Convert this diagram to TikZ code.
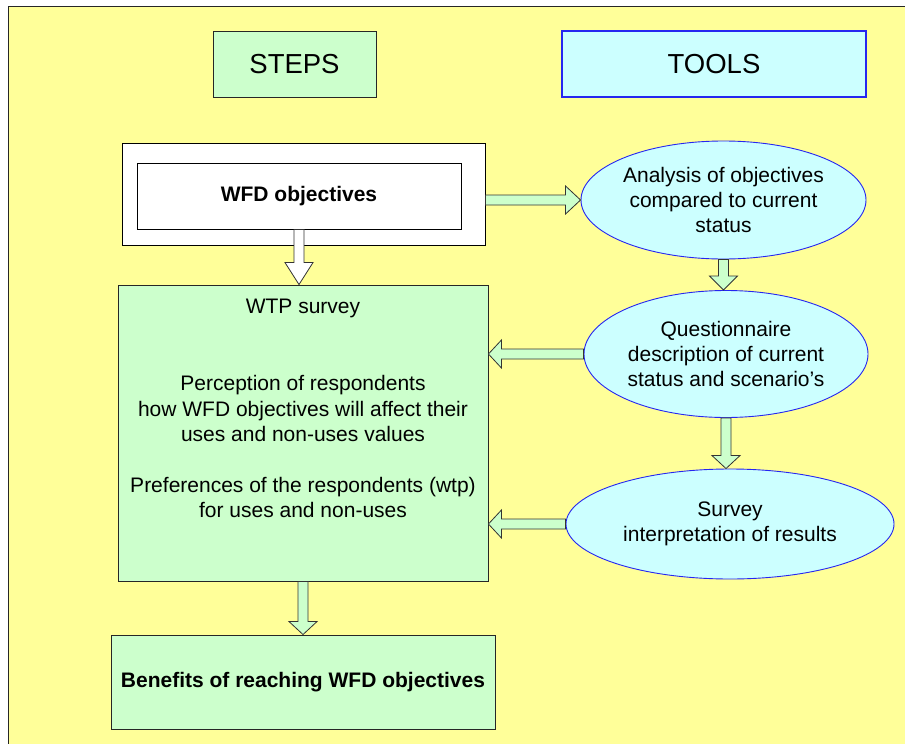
\documentclass[tikz,border=0pt]{standalone}
\usepackage{fontspec}
\setmainfont{Liberation Sans}
\usetikzlibrary{shapes.geometric,calc}

\definecolor{pageyellow}{HTML}{FFFF99}
\definecolor{stepgreen}{HTML}{CCFFCC}
\definecolor{toolcyan}{HTML}{CCFFFF}
\definecolor{toolblue}{HTML}{2626F0}

\tikzset{
  headfont/.style={font=\fontsize{27.5}{33}\selectfont},
  bodyfont/.style={font=\fontsize{21}{25.4}\selectfont},
  boldfont/.style={font=\fontsize{21}{25.4}\selectfont\bfseries},
  stepbox/.style={draw=black!85, fill=stepgreen, line width=0.9pt, inner sep=0pt},
  toolbox/.style={draw=toolblue, fill=toolcyan, line width=1.2pt, inner sep=0pt},
  whitebox/.style={draw=black, fill=white, line width=0.9pt, inner sep=0pt},
  toolellipse/.style={ellipse, draw=toolblue, fill=toolcyan, line width=0.9pt,
    inner sep=0pt, align=center, bodyfont},
  fatarrow/.style={draw=black!80, fill=stepgreen, line width=0.8pt, line join=miter},
}

% Block arrow from #2 to #3, head length #4 (pt), extra style #1
\newcommand\fatarrow[4][]{%
  \path let \p1=#2, \p2=#3 in
    \pgfextra{%
      \pgfmathsetmacro\arlen{veclen(\x2-\x1,\y2-\y1)}%
      \pgfmathsetmacro\arang{atan2(\y2-\y1,\x2-\x1)}%
      \pgfmathsetmacro\arx{\x1}%
      \pgfmathsetmacro\ary{\y1}%
      \xdef\arlen{\arlen}\xdef\arang{\arang}%
      \xdef\arx{\arx}\xdef\ary{\ary}};
  \begin{scope}[shift={(\arx pt,\ary pt)}, rotate=\arang]
    \draw[fatarrow,#1] (0pt,-5pt) -- ({\arlen pt-#4pt},-5pt)
      -- ({\arlen pt-#4pt},-14pt) -- (\arlen pt,0pt)
      -- ({\arlen pt-#4pt},14pt) -- ({\arlen pt-#4pt},5pt)
      -- (0pt,5pt) -- cycle;
  \end{scope}}

\begin{document}
\begin{tikzpicture}[x=1pt,y=-1pt]
  \useasboundingbox (0,0) rectangle (905,744);
  \fill[pageyellow] (8,6) rectangle (905,744);
  \draw[black!85, line width=1pt] (8,744) -- (8,6) -- (905,6);

  % column headings
  \node[stepbox, minimum width=163pt, minimum height=66pt, headfont] (steps) at (294.5,64) {STEPS};
  \node[toolbox, minimum width=304pt, minimum height=66pt, headfont] (tools) at (714,64) {TOOLS};

  % steps column
  \node[whitebox, minimum width=363pt, minimum height=102pt] (wfdout) at (303.5,194) {};
  \node[whitebox, minimum width=324pt, minimum height=66pt, boldfont] (wfd) at (299,196) {WFD objectives};

  \node[stepbox, minimum width=370pt, minimum height=296pt] (wtp) at (303,433) {};
  \node[bodyfont, anchor=base, inner sep=0pt] (wtptitle) at ($(wtp.north)+(0,29)$) {WTP survey};
  \node[bodyfont, align=center, anchor=north, inner sep=0pt] (wtpbody) at (303,375.5)
    {Perception of respondents\\how WFD objectives will affect their\\uses and non-uses values\\[25.4pt]Preferences of the respondents (wtp)\\for uses and non-uses};

  \node[stepbox, minimum width=384pt, minimum height=94pt, boldfont] (benefits) at (303,682) {Benefits of reaching WFD objectives};

  % tools column
  \node[toolellipse, minimum width=285pt, minimum height=118pt] (ell1) at (723.5,200)
    {Analysis of objectives\\compared to current\\status};
  \node[toolellipse, minimum width=284pt, minimum height=127pt] (ell2) at (726,354)
    {Questionnaire\\description of current\\status and scenario’s};
  \node[toolellipse, minimum width=328pt, minimum height=110pt] (ell3) at (730,524)
    {Survey\\interpretation of results};

  % connectors
  \fatarrow{(wfdout.east |- ell1.west)}{(ell1.west)}{15}
  \fatarrow[fill=white]{(wfd.south)}{(wfd.south |- wtp.north)}{22}
  \fatarrow{(ell1.south)}{(ell1.south |- ell2.north)}{14}
  \fatarrow{(ell2.west)}{(wtp.east |- ell2.west)}{13}
  \fatarrow{(ell2.south)}{(ell2.south |- ell3.north)}{13}
  \fatarrow{(ell3.west)}{(wtp.east |- ell3.west)}{13}
  \fatarrow{(wtp.south)}{(benefits.north)}{13}
\end{tikzpicture}
\end{document}
